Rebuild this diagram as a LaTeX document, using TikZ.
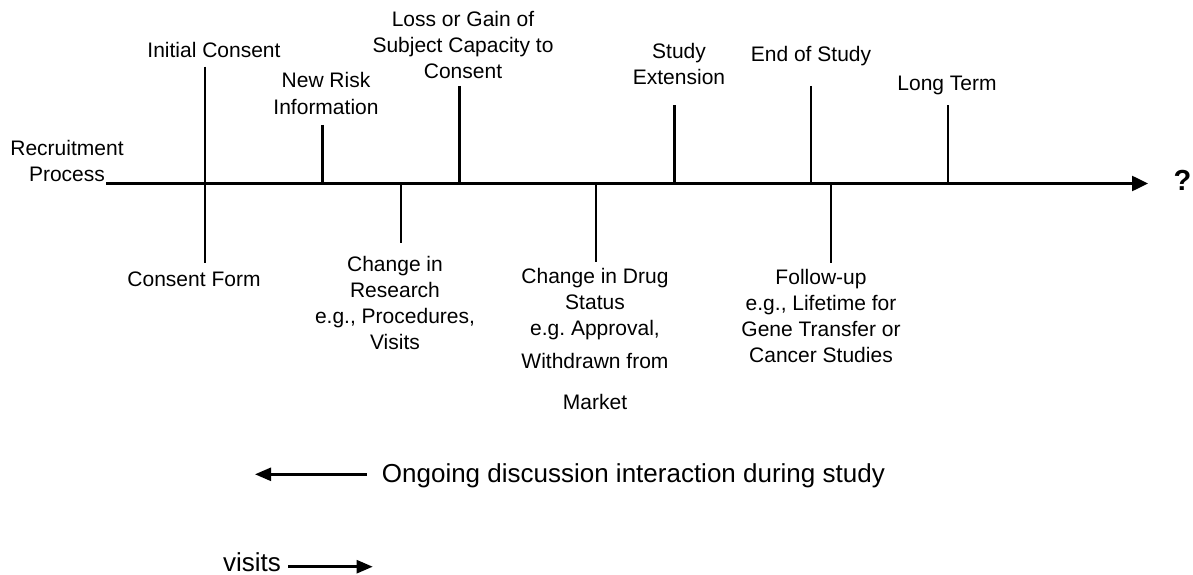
\documentclass[tikz,border=0pt]{standalone}
\usepackage{fontspec}
\setmainfont{Liberation Sans}
\usetikzlibrary{arrows.meta}
\frenchspacing

\begin{document}
\begin{tikzpicture}[x=1pt,y=-1pt,
  lbl/.style={font=\fontsize{21}{26}\selectfont, align=center, inner sep=0pt, anchor=base},
  big/.style={font=\fontsize{26}{30}\selectfont, inner sep=0pt, anchor=base west},
  tick/.style={line width=2.5pt},
  axis/.style={line width=2.5pt, -{Triangle[length=16pt,width=15pt]}},
  note/.style={line width=2.5pt, -{Triangle[length=16pt,width=13pt]}}]
\useasboundingbox (0,0) rectangle (1193,575);

% timeline (multi-line labels are placed by the baseline of their last line)
\coordinate (start) at (106,183.5);
\coordinate (finish) at (1148,183.5);
\draw[axis] (start) -- (finish);
\node[font=\bfseries\fontsize{29}{32}\selectfont, inner sep=0pt, anchor=base] (q) at (1182.5,190.7) {?};

% events above and below the line
\node[lbl] (recruit) at (67,181.7) {Recruitment\\Process};

\node[lbl] (initial) at (214,57.3) {Initial Consent};
\node[lbl] (form) at (194,286) {Consent Form};
\coordinate (initialTop) at (205,66.7);
\coordinate (initialBot) at (205,263);
\draw[tick] (initialTop) -- (initialBot);

\node[lbl] (risk) at (326,114) {New Risk\\Information};
\coordinate (riskTop) at (322.6,125);
\coordinate (riskAx) at (322.6,183.5);
\draw[tick] (riskTop) -- (riskAx);

\node[lbl] (research) at (395,349.3) {Change in\\Research\\e.g., Procedures,\\Visits};
\coordinate (researchAx) at (401,183.5);
\coordinate (researchBot) at (401,243);
\draw[tick] (researchAx) -- (researchBot);

\node[lbl] (capacity) at (463,78.3) {Loss or Gain of\\Subject Capacity to\\Consent};
\coordinate (capacityTop) at (459.6,86);
\coordinate (capacityAx) at (459.6,183.5);
\draw[tick] (capacityTop) -- (capacityAx);

\node[lbl] (drug) at (595,409.3) {Change in Drug\\Status\\e.g. Approval,\\[7pt]Withdrawn from\\[15pt]Market};
\coordinate (drugAx) at (596,183.5);
\coordinate (drugBot) at (596,262);
\draw[tick] (drugAx) -- (drugBot);

\node[lbl] (extension) at (679,85) {Study\\Extension};
\coordinate (extensionTop) at (674.6,105.3);
\coordinate (extensionAx) at (674.6,183.5);
\draw[tick] (extensionTop) -- (extensionAx);

\node[lbl] (end) at (811,61.7) {End of Study};
\coordinate (endTop) at (811,86);
\coordinate (endAx) at (811,183.5);
\draw[tick] (endTop) -- (endAx);

\node[lbl] (follow) at (821,362.7) {Follow-up\\e.g., Lifetime for\\Gene Transfer or\\Cancer Studies};
\coordinate (followAx) at (830.8,183.5);
\coordinate (followBot) at (830.8,263);
\draw[tick] (followAx) -- (followBot);

\node[lbl] (long) at (947,90.7) {Long Term};
\coordinate (longTop) at (948,105.3);
\coordinate (longAx) at (948,183.5);
\draw[tick] (longTop) -- (longAx);

% legend
\node[big] (ongoing) at (381.7,482.3) {Ongoing discussion interaction during study};
\coordinate (ongoingTail) at (366.7,474.3);
\coordinate (ongoingTip) at (255,474.3);
\draw[note] (ongoingTail) -- (ongoingTip);

\node[big] (visits) at (223,571) {visits};
\coordinate (visitsTail) at (288,566.7);
\coordinate (visitsTip) at (372.7,566.7);
\draw[note] (visitsTail) -- (visitsTip);
\end{tikzpicture}
\end{document}
